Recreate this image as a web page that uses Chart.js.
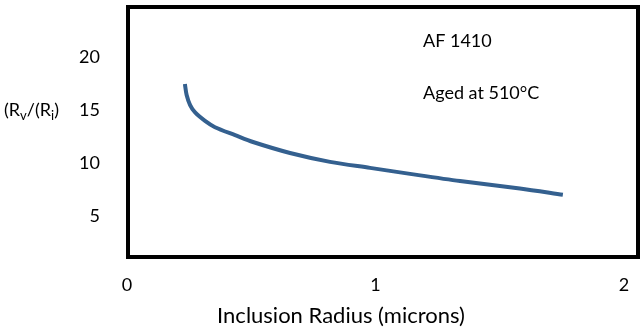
<!DOCTYPE html>
<html>
<head>
<meta charset="utf-8">
<script src="https://cdn.jsdelivr.net/npm/chart.js@4/dist/chart.umd.min.js"></script>
<style>
html,body{margin:0;padding:0;background:#fff;}
#wrap{width:640px;height:330px;position:relative;}
</style>
</head>
<body>
<div id="wrap"><canvas id="c" width="640" height="330"></canvas></div>
<script>
const radius = [0.233, 0.240, 0.254, 0.274, 0.314, 0.354, 0.435, 0.507, 0.656, 0.817, 0.978, 1.139, 1.340, 1.581, 1.754];
const ratio  = [17.5, 16.45, 15.5, 14.8, 14.0, 13.4, 12.65, 12.0, 10.96, 10.12, 9.55, 8.98, 8.3, 7.6, 7.0];
const yTicks = [5, 10, 15, 20];
const xTicks = [0, 1, 2];
const xTitle = 'Inclusion Radius (microns)';
const notes = ['AF 1410', 'Aged at 510°C'];

const FONT = 'Lato, "Open Sans", sans-serif';

const overlay = {
  id: 'overlay',
  afterDraw(chart) {
    const ctx = chart.ctx;
    const a = chart.chartArea;
    ctx.save();
    ctx.strokeStyle = '#000';
    ctx.lineWidth = 4;
    ctx.strokeRect(a.left + 1, a.top, a.right - a.left + 13, a.bottom - a.top);
    ctx.fillStyle = '#000';
    ctx.textBaseline = 'alphabetic';
    ctx.textAlign = 'left';
    ctx.font = '18px ' + FONT;
    ctx.fillText(notes[0], 423, 47);
    ctx.fillText(notes[1], 423, 99);
    ctx.textAlign = 'center';
    ctx.font = '22px ' + FONT;
    ctx.fillText(xTitle, 341, 323);
    ctx.textAlign = 'left';
    let x = 4;
    const base = 116;
    const parts = [['(R', false], ['v', true], ['/(R', false], ['i', true], [')', false]];
    for (const [t, sub] of parts) {
      ctx.font = (sub ? '13px ' : '18px ') + FONT;
      ctx.fillText(t, x, sub ? base + 4 : base);
      x += ctx.measureText(t).width;
    }
    ctx.restore();
  }
};

new Chart(document.getElementById('c'), {
  type: 'scatter',
  data: {
    datasets: [{
      data: radius.map((r, i) => ({x: r, y: ratio[i]})),
      showLine: true,
      borderColor: '#34608f',
      borderWidth: 4,
      pointRadius: 0,
      tension: 0.3,
      fill: false
    }]
  },
  options: {
    responsive: false,
    animation: false,
    layout: {padding: {left: 0, right: 16, top: 7, bottom: 0}},
    plugins: {legend: {display: false}, tooltip: {enabled: false}},
    scales: {
      x: {
        type: 'linear', min: 0, max: 2,
        afterBuildTicks: s => { s.ticks = xTicks.map(v => ({value: v})); },
        grid: {display: false, drawTicks: false},
        border: {display: false},
        ticks: {color: '#000', font: {family: FONT, size: 18}, padding: 17, maxRotation: 0},
        afterFit: s => { s.height = 73; s.paddingLeft = 0; s.paddingRight = 0; }
      },
      y: {
        type: 'linear', min: 1.1, max: 24.8,
        afterBuildTicks: s => { s.ticks = yTicks.map(v => ({value: v})); },
        grid: {display: false, drawTicks: false},
        border: {display: false},
        ticks: {color: '#000', font: {family: FONT, size: 18}, padding: 27},
        afterFit: s => { s.width = 127; s.paddingTop = 0; s.paddingBottom = 0; }
      }
    }
  },
  plugins: [overlay]
});
</script>
</body>
</html>
